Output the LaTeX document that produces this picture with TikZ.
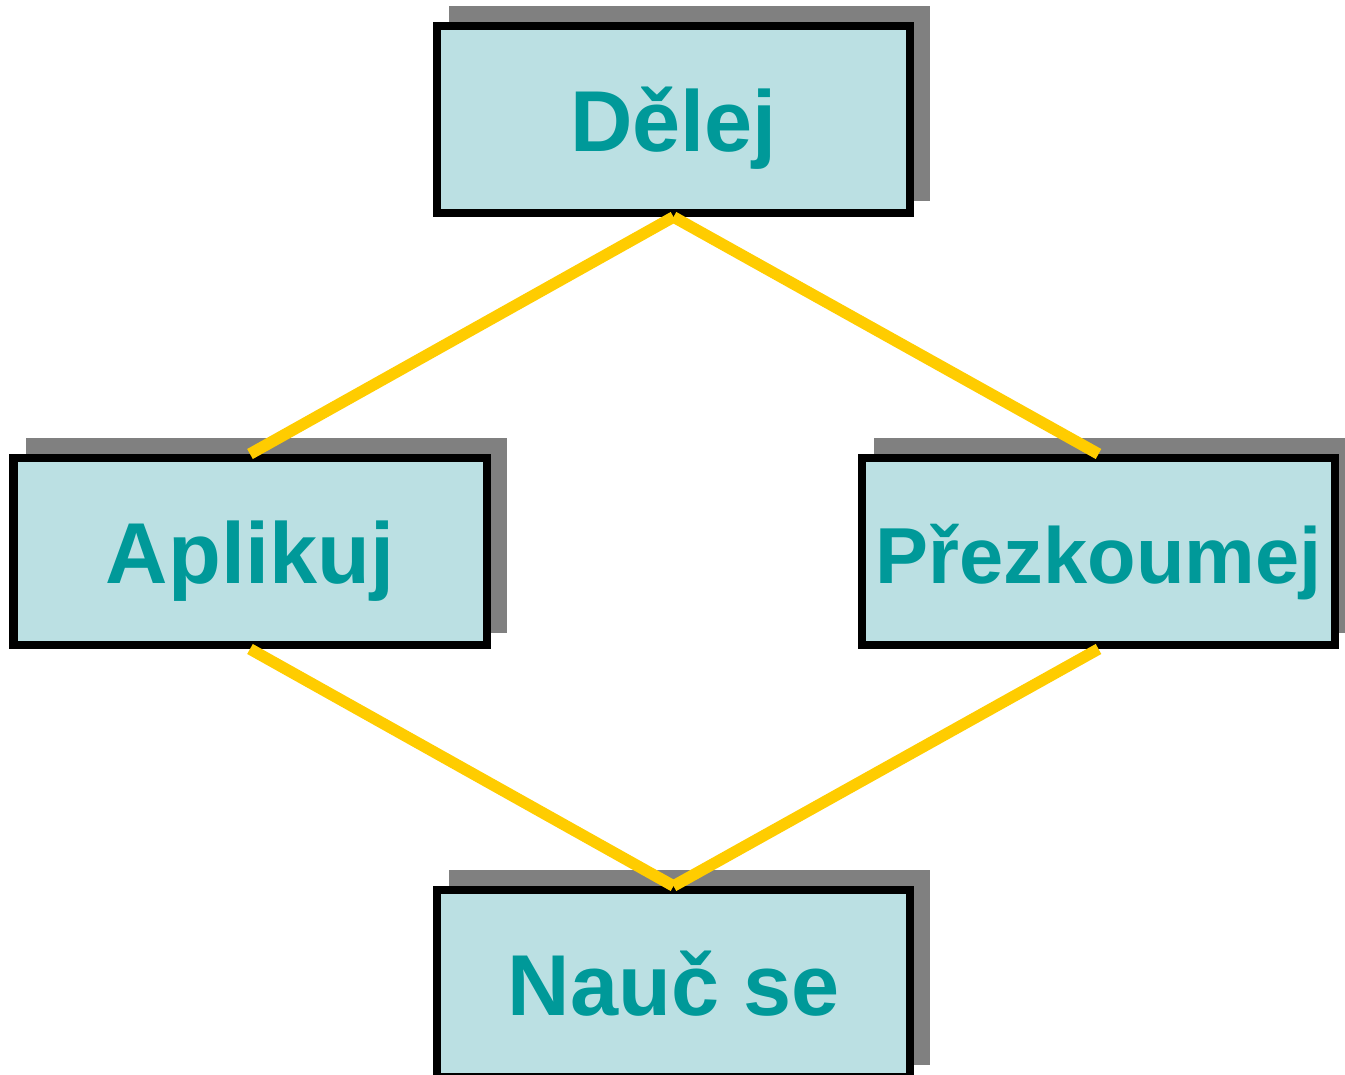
\documentclass[tikz,border=0pt]{standalone}
\usepackage{fontspec}
\setmainfont{Liberation Sans}
\usepackage{xcolor}
\usetikzlibrary{positioning}
\definecolor{boxfill}{HTML}{BBE0E3}
\definecolor{boxtext}{HTML}{009999}
\definecolor{linkyellow}{HTML}{FFCC00}
\definecolor{shadowgray}{HTML}{808080}

\begin{document}
\begin{tikzpicture}[node distance=4.3cm,on grid,
   stage/.style={rectangle,draw=black,line width=0.08cm,fill=boxfill,
     minimum width=4.73cm,minimum height=1.87cm,inner sep=0pt,
     text height=0.64cm,text depth=0cm,text=boxtext,
     font=\fontsize{24.6}{28}\selectfont\bfseries,
     preaction={draw=shadowgray,fill=shadowgray,
       transform canvas={shift={(0.16cm,0.16cm)}}}},
   link/.style={draw=linkyellow,line width=0.115cm}]
   \useasboundingbox (0,0) rectangle (13.45,-10.75);
   \node[stage] (delej) at (6.735,-1.195) {Dělej};
   \node[stage] (aplikuj) [below left=4.32cm and 4.235cm of delej] {Aplikuj};
   \node[stage,font=\fontsize{22.6}{26}\selectfont\bfseries] (prezkoumej)
      [below right=4.32cm and 4.25cm of delej] {Přezkoumej};
   \node[stage] (nauc) [below=8.64cm of delej] {Nauč se};
   \draw[link] (delej.south) -- (aplikuj.north);
   \draw[link] (delej.south) -- (prezkoumej.north);
   \draw[link] (aplikuj.south) -- (nauc.north);
   \draw[link] (prezkoumej.south) -- (nauc.north);
\end{tikzpicture}
\end{document}
